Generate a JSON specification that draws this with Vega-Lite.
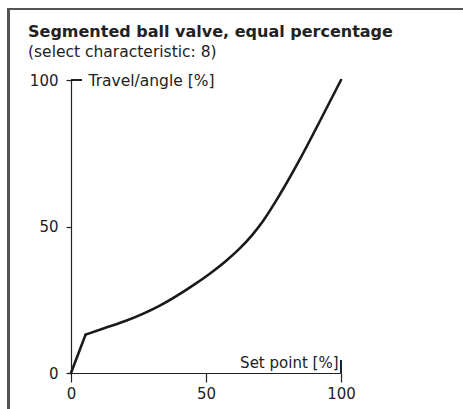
{
  "$schema": "https://vega.github.io/schema/vega-lite/v6.json",
  "autosize": "none",
  "width": 270,
  "height": 293,
  "padding": {"left": 71, "top": 80, "right": 122, "bottom": 36},
  "background": "white",
  "config": {"view": {"stroke": null}, "font": "DejaVu Sans"},
  "title": {
    "text": "Segmented ball valve, equal percentage",
    "subtitle": "(select characteristic: 8)",
    "anchor": "start",
    "frame": "group",
    "dx": -43,
    "offset": -52,
    "font": "DejaVu Sans",
    "fontSize": 16,
    "fontWeight": "bold",
    "color": "#222",
    "subtitleFont": "DejaVu Sans",
    "subtitleFontSize": 15.5,
    "subtitleColor": "#222",
    "subtitlePadding": 5
  },
  "data": {"values": [
    {"x": 0, "y": 0, "part": "start"},
    {"x": 5.4, "y": 13.1, "part": "start"},
    {"x": 5.4, "y": 13.1, "part": "curve"},
    {"x": 12, "y": 15.2, "part": "curve"},
    {"x": 20.6, "y": 17.9, "part": "curve"},
    {"x": 32.9, "y": 23.0, "part": "curve"},
    {"x": 45.2, "y": 29.9, "part": "curve"},
    {"x": 51.4, "y": 33.9, "part": "curve"},
    {"x": 57.6, "y": 38.4, "part": "curve"},
    {"x": 62.6, "y": 42.6, "part": "curve"},
    {"x": 67, "y": 47, "part": "curve"},
    {"x": 71.2, "y": 52.0, "part": "curve"},
    {"x": 77.4, "y": 61.0, "part": "curve"},
    {"x": 85.1, "y": 73.5, "part": "curve"},
    {"x": 92.2, "y": 86.0, "part": "curve"},
    {"x": 100, "y": 100, "part": "curve"}
  ]},
  "layer": [
    {
      "mark": {"type": "rule", "color": "#555", "strokeWidth": 2, "clip": false},
      "encoding": {
        "x": {"datum": -23.1, "type": "quantitative"},
        "y": {"datum": 124.2, "type": "quantitative"},
        "y2": {"datum": -20}
      }
    },
    {
      "mark": {"type": "rule", "color": "#555", "strokeWidth": 2, "clip": false},
      "encoding": {
        "x": {"datum": -23.4, "type": "quantitative"},
        "x2": {"datum": 160},
        "y": {"datum": 124.2, "type": "quantitative"}
      }
    },
    {
      "mark": {"type": "rule", "color": "#222", "strokeWidth": 1.2},
      "encoding": {
        "x": {"datum": 0, "type": "quantitative"},
        "x2": {"datum": 4},
        "y": {"datum": 100, "type": "quantitative"}
      }
    },
    {
      "mark": {"type": "rule", "color": "#222", "strokeWidth": 1.2},
      "encoding": {
        "x": {"datum": 100, "type": "quantitative"},
        "y": {"datum": 0, "type": "quantitative"},
        "y2": {"datum": 4.3}
      }
    },
    {
      "transform": [{"filter": "datum.part == 'start'"}],
      "mark": {"type": "line", "color": "#1a1a1a", "strokeWidth": 2.6, "strokeCap": "round"},
      "encoding": {
        "x": {"field": "x", "type": "quantitative"},
        "y": {"field": "y", "type": "quantitative"}
      }
    },
    {
      "transform": [{"filter": "datum.part == 'curve'"}],
      "mark": {"type": "line", "color": "#1a1a1a", "strokeWidth": 2.6, "interpolate": "monotone", "strokeCap": "round"},
      "encoding": {
        "x": {
          "field": "x", "type": "quantitative",
          "scale": {"domain": [0, 100], "nice": false, "zero": false},
          "axis": {
            "values": [0, 50, 100],
            "grid": false,
            "domainColor": "#222", "domainWidth": 1.2,
            "tickColor": "#222", "tickWidth": 1.2, "tickSize": 9,
            "labelFont": "DejaVu Sans", "labelFontSize": 15, "labelColor": "#222", "labelPadding": 4,
            "labelFlush": false, "labelOverlap": false,
            "title": "Set point [%]",
            "titleFont": "DejaVu Sans", "titleFontSize": 15, "titleFontWeight": "normal", "titleColor": "#222",
            "titleX": 267, "titleY": -6, "titleAlign": "right", "titleBaseline": "alphabetic", "titleAnchor": null
          }
        },
        "y": {
          "field": "y", "type": "quantitative",
          "scale": {"domain": [0, 100], "nice": false, "zero": false},
          "axis": {
            "values": [0, 50, 100],
            "grid": false,
            "domainColor": "#222", "domainWidth": 1.2,
            "tickColor": "#222", "tickWidth": 1.2, "tickSize": 5,
            "labelFont": "DejaVu Sans", "labelFontSize": 15, "labelColor": "#222", "labelPadding": 8,
            "labelFlush": false, "labelOverlap": false, "labelBaseline": "middle",
            "title": "Travel/angle [%]",
            "titleFont": "DejaVu Sans", "titleFontSize": 15.5, "titleFontWeight": "normal", "titleColor": "#222",
            "titleAngle": 0, "titleX": 17, "titleY": 0, "titleAlign": "left", "titleBaseline": "middle", "titleAnchor": null
          }
        }
      }
    }
  ]
}
